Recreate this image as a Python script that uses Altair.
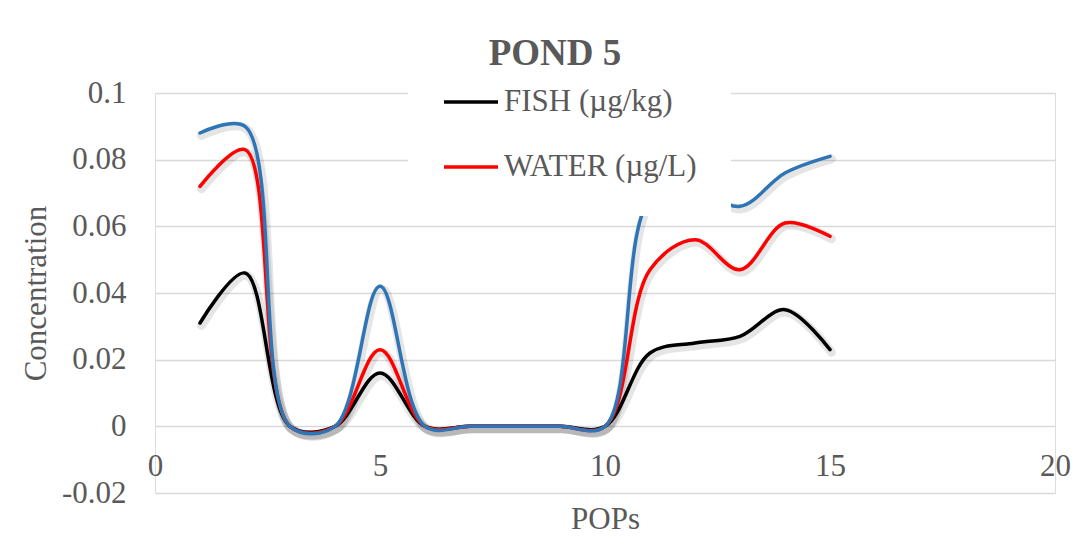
import altair as alt
import pandas as pd

pops = [1, 2, 3, 4, 5, 6, 7, 8, 9, 10, 11, 12, 13, 14, 15]
fish = [0.031, 0.046, 0.0, 0.0, 0.016, 0.0, 0.0, 0.0, 0.0, 0.0, 0.022, 0.025, 0.027, 0.035, 0.023]
water = [0.072, 0.083, 0.0, 0.0, 0.023, 0.0, 0.0, 0.0, 0.0, 0.0, 0.047, 0.056, 0.047, 0.061, 0.057]
series3 = [0.088, 0.090, 0.0, 0.0, 0.042, 0.0, 0.0, 0.0, 0.0, 0.0, 0.068, 0.071, 0.066, 0.076, 0.081]

names = ["FISH (µg/kg)", "WATER (µg/L)", "Series 3"]
colors = ["#000000", "#FF0000", "#2E75B6"]
y_ticks = [-0.02, 0, 0.02, 0.04, 0.06, 0.08, 0.1]
x_ticks = [0, 5, 10, 15, 20]

rows = []
for name, vals in zip(names, [fish, water, series3]):
    for x, v in zip(pops, vals):
        rows.append({"POPs": x, "Concentration": v, "series": name})
df = pd.DataFrame(rows)

FONT = "Liberation Serif"
GREY = "#595959"

x_enc = alt.X(
    "POPs:Q",
    scale=alt.Scale(domain=[0, 20], nice=False, zero=False),
    axis=alt.Axis(
        values=x_ticks, grid=False, domain=False, ticks=False, offset=-67,
        labelFont=FONT, labelFontSize=31, labelColor=GREY, labelPadding=49,
        labelBaseline="alphabetic", labelFlush=False,
        title="POPs", titleFont=FONT, titleFontSize=31, titleFontWeight="normal",
        titleColor=GREY, titleX=450, titleY=102, titleBaseline="alphabetic",
        titleAlign="center",
    ),
)
y_enc = alt.Y(
    "Concentration:Q",
    scale=alt.Scale(domain=[-0.02, 0.1], nice=False, zero=False),
    axis=alt.Axis(
        values=y_ticks, grid=True, gridColor="#d9d9d9", gridWidth=1.5,
        domain=False, ticks=False,
        labelExpr="replace(format(datum.value, '~g'), '\u2212', '-')",
        labelFont=FONT, labelFontSize=31, labelColor=GREY, labelPadding=29,
        title="Concentration", titleFont=FONT, titleFontSize=31,
        titleFontWeight="normal", titleColor=GREY, titleAngle=-90,
        titleX=-110, titleY=200, titleBaseline="alphabetic", titleAlign="center",
    ),
)

shadow = alt.Chart(df).mark_line(
    interpolate="catmull-rom", strokeWidth=9, color="#000000", opacity=0.10,
    xOffset=1.5, yOffset=2.5, strokeCap="round",
).encode(x=x_enc, y=y_enc, detail="series:N")

lines = alt.Chart(df).mark_line(
    interpolate="catmull-rom", strokeWidth=3.5, strokeCap="round",
).encode(
    x=x_enc,
    y=y_enc,
    color=alt.Color(
        "series:N",
        scale=alt.Scale(domain=names, range=colors),
        sort=names,
        legend=alt.Legend(
            title=None, orient="none", legendX=253, legendY=-54,
            values=names[:2], symbolType="stroke", symbolSize=2916,
            symbolStrokeWidth=3.5, labelFont=FONT, labelFontSize=31,
            labelColor=GREY, labelOffset=4, padding=34, rowPadding=21,
            fillColor="white", labelLimit=400,
        ),
    ),
)

chart = alt.layer(shadow, lines).properties(
    width=900,
    height=400,
    autosize=alt.AutoSizeParams(type="none"),
    padding={"left": 147, "top": 85, "right": 25, "bottom": 48},
    title=alt.TitleParams(
        "POND 5", font=FONT, fontSize=37, fontWeight="bold", color=GREY,
        anchor="middle", frame="group", dx=-50, dy=91, offset=28,
        baseline="alphabetic",
    ),
).configure_view(stroke=None).configure(background="white")

chart.save("out.html", embed_options={"renderer": "svg", "actions": False})
